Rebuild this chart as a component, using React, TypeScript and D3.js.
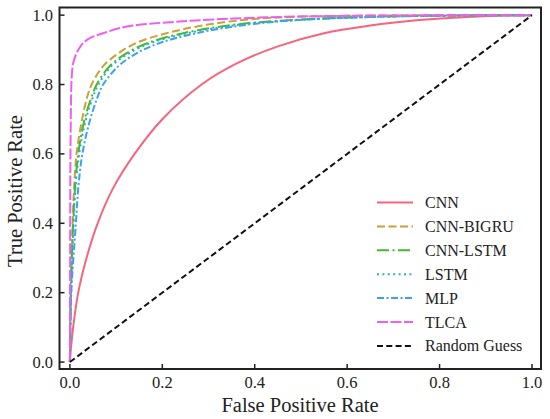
import React from "react";
import * as d3 from "d3";

const cnnFpr = [0, 0.003, 0.007, 0.018, 0.036, 0.06, 0.093, 0.14, 0.2, 0.285, 0.36, 0.45, 0.55, 0.65, 0.75, 0.85, 0.95, 1];
const cnnTpr = [0, 0.05, 0.1, 0.2, 0.3, 0.4, 0.5, 0.6, 0.7, 0.8, 0.86, 0.91, 0.948, 0.97, 0.985, 0.994, 0.999, 1];

const bigruFpr = [0, 0.001, 0.002, 0.006, 0.009, 0.0144, 0.025, 0.036, 0.047, 0.072, 0.105, 0.144, 0.209, 0.295, 0.41, 0.6, 1];
const bigruTpr = [0, 0.1, 0.2, 0.4, 0.5, 0.6, 0.69, 0.757, 0.8, 0.853, 0.89, 0.92, 0.948, 0.972, 0.99, 0.998, 1];

const cnnLstmFpr = [0, 0.002, 0.007, 0.011, 0.018, 0.03, 0.045, 0.058, 0.086, 0.122, 0.169, 0.245, 0.353, 0.483, 0.65, 0.85, 1];
const cnnLstmTpr = [0, 0.2, 0.4, 0.5, 0.6, 0.69, 0.757, 0.8, 0.853, 0.89, 0.92, 0.948, 0.972, 0.986, 0.995, 0.999, 1];

const lstmFpr = [0, 0.0025, 0.008, 0.012, 0.02, 0.033, 0.048, 0.062, 0.09, 0.128, 0.176, 0.255, 0.365, 0.49, 0.66, 0.85, 1];
const lstmTpr = [0, 0.2, 0.4, 0.5, 0.6, 0.69, 0.757, 0.8, 0.853, 0.89, 0.92, 0.948, 0.972, 0.986, 0.995, 0.999, 1];

const mlpFpr = [0, 0.003, 0.013, 0.018, 0.027, 0.042, 0.058, 0.072, 0.105, 0.144, 0.195, 0.274, 0.382, 0.497, 0.66, 0.85, 1];
const mlpTpr = [0, 0.2, 0.4, 0.5, 0.6, 0.69, 0.757, 0.8, 0.853, 0.89, 0.92, 0.948, 0.972, 0.986, 0.995, 0.999, 1];

const tlcaFpr = [0, 0.0005, 0.0014, 0.004, 0.0072, 0.0144, 0.022, 0.029, 0.045, 0.072, 0.123, 0.23, 0.41, 0.6, 0.8, 1];
const tlcaTpr = [0, 0.3, 0.63, 0.823, 0.862, 0.89, 0.908, 0.92, 0.935, 0.948, 0.967, 0.981, 0.993, 0.998, 0.9995, 1];

const randomFpr = [0, 1];
const randomTpr = [0, 1];

const seriesNames = ["CNN", "CNN-BIGRU", "CNN-LSTM", "LSTM", "MLP", "TLCA", "Random Guess"];
const seriesFpr = [cnnFpr, bigruFpr, cnnLstmFpr, lstmFpr, mlpFpr, tlcaFpr, randomFpr];
const seriesTpr = [cnnTpr, bigruTpr, cnnLstmTpr, lstmTpr, mlpTpr, tlcaTpr, randomTpr];
const seriesColors = ["#f7657c", "#c9a23a", "#46b82e", "#2ab5a6", "#3aa2ee", "#ee5ef0", "#111111"];
const seriesDash = ["", "8,3.5", "12,3.5,2,3.5", "2,3.4", "7,2.5,2,2.5", "11,2.5", "6,3.3"];

const xTicks = [0, 0.2, 0.4, 0.6, 0.8, 1.0];
const yTicks = [0, 0.2, 0.4, 0.6, 0.8, 1.0];

const W = 550;
const H = 419;
const fontStyle = { fontFamily: '"Liberation Serif"' };

export default function App() {
  const x = d3.scaleLinear().domain([-0.0225, 1.0195]).range([59.5, 541]);
  const y = d3.scaleLinear().domain([-0.02, 1.022]).range([369, 7.5]);
  const line = d3
    .line<[number, number]>()
    .x((d) => x(d[0]))
    .y((d) => y(d[1]))
    .curve(d3.curveCatmullRom.alpha(0.5));

  const legendX0 = 377;
  const legendX1 = 413;
  const legendY0 = 202.5;
  const legendStep = 23.9;

  return (
    <svg
      width={W}
      height={H}
      viewBox={`0 0 ${W} ${H}`}
      style={{ position: "absolute", left: 0, top: 0, background: "#fff" }}
    >
      <rect x={0} y={0} width={W} height={H} fill="#fff" />
      <defs>
        <clipPath id="plotclip">
          <rect x={59.5} y={7.5} width={481.5} height={361.5} />
        </clipPath>
      </defs>
      <g clipPath="url(#plotclip)">
        {seriesNames.map((name, i) => {
          const pts = seriesFpr[i].map((v, j) => [v, seriesTpr[i][j]] as [number, number]);
          return (
            <path
              key={name}
              d={line(pts) || ""}
              fill="none"
              stroke={seriesColors[i]}
              strokeWidth={2}
              strokeDasharray={seriesDash[i] || undefined}
            />
          );
        })}
      </g>
      <rect x={59.5} y={7.5} width={481.5} height={361.5} fill="none" stroke="#222" strokeWidth={2} />
      {xTicks.map((t) => (
        <g key={"x" + t}>
          <line x1={x(t)} x2={x(t)} y1={369} y2={364} stroke="#222" strokeWidth={1.5} />
          <text x={x(t)} y={388} textAnchor="middle" fontSize={16.5} fill="#222" style={fontStyle}>
            {t.toFixed(1)}
          </text>
        </g>
      ))}
      {yTicks.map((t) => (
        <g key={"y" + t}>
          <line x1={59.5} x2={64.5} y1={y(t)} y2={y(t)} stroke="#222" strokeWidth={1.5} />
          <text x={53} y={y(t) + 5.5} textAnchor="end" fontSize={16.5} fill="#222" style={fontStyle}>
            {t.toFixed(1)}
          </text>
        </g>
      ))}
      <text x={300} y={412} textAnchor="middle" fontSize={20.5} fill="#222" style={fontStyle}>
        False Positive Rate
      </text>
      <text
        transform={`translate(22,191) rotate(-90)`}
        textAnchor="middle"
        fontSize={20.5}
        fill="#222"
        style={fontStyle}
      >
        True Positive Rate
      </text>
      {seriesNames.map((name, i) => {
        const ly = legendY0 + i * legendStep;
        return (
          <g key={"leg" + name}>
            <line
              x1={legendX0}
              x2={legendX1}
              y1={ly}
              y2={ly}
              stroke={seriesColors[i]}
              strokeWidth={2}
              strokeDasharray={seriesDash[i] || undefined}
            />
            <text x={425} y={ly + 5.5} fontSize={16} fill="#222" style={fontStyle}>
              {name}
            </text>
          </g>
        );
      })}
    </svg>
  );
}
